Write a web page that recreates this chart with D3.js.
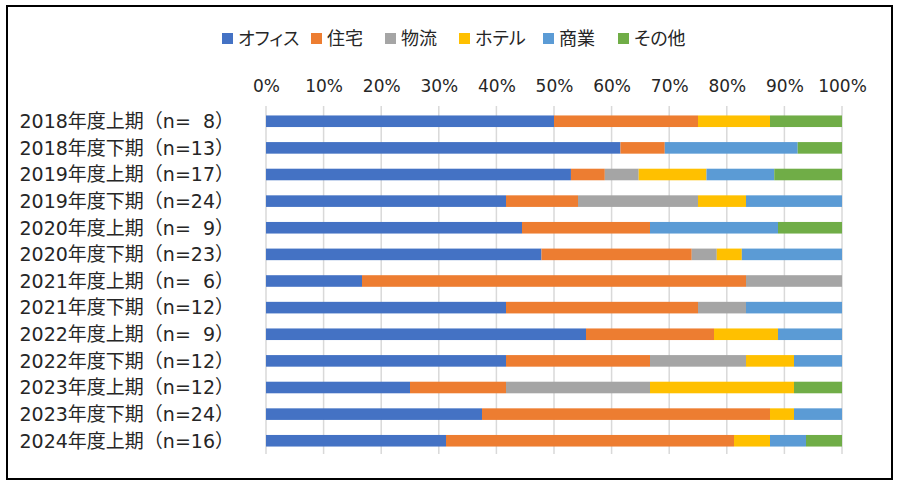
<!DOCTYPE html>
<html><head><meta charset="utf-8">
<script src="https://cdn.jsdelivr.net/npm/d3@7"></script>
<style>
html,body{margin:0;padding:0;background:#fff;}
svg{display:block;}
text{font-family:"DejaVu Sans","Noto Sans CJK JP",sans-serif;fill:#262626;}
</style></head>
<body>
<svg id="chart" width="900" height="488"></svg>
<script>
const periods = ["2018年度上期","2018年度下期","2019年度上期","2019年度下期","2020年度上期","2020年度下期","2021年度上期","2021年度下期","2022年度上期","2022年度下期","2023年度上期","2023年度下期","2024年度上期"];
const nValues = [8,13,17,24,9,23,6,12,9,12,12,24,16];
const seriesNames = ["オフィス","住宅","物流","ホテル","商業","その他"];
const office   = [4,8,9,10,4,11,1,5,5,5,3,9,5];
const housing  = [2,1,1,3,2,6,4,4,2,3,2,12,8];
const logistics= [0,0,1,5,0,1,1,1,0,2,3,0,0];
const hotel    = [1,0,2,2,0,1,0,0,1,1,3,1,1];
const retail   = [0,3,2,4,2,4,0,2,1,1,0,2,1];
const other    = [1,1,2,0,1,0,0,0,0,0,1,0,1];
const tickValues = [0,0.1,0.2,0.3,0.4,0.5,0.6,0.7,0.8,0.9,1];
const colors = ["#4472C4","#ED7D31","#A5A5A5","#FFC000","#5B9BD5","#70AD47"];

const seriesArrays = [office,housing,logistics,hotel,retail,other];
const labels = periods.map((p,i)=>`${p}（n=${String(nValues[i]).padStart(2,"\u2007")}）`);
const rows = periods.map((p,i)=>{
  const r = {label: labels[i]};
  seriesNames.forEach((s,j)=>{ r[s] = seriesArrays[j][i]; });
  return r;
});

const svg = d3.select("#chart");
svg.append("rect").attr("x",7).attr("y",6).attr("width",885).attr("height",473)
  .attr("fill","#fff").attr("stroke","#000").attr("stroke-width",2);

const x = d3.scaleLinear().domain([0,1]).range([266,842]);
const y = d3.scaleBand().domain(labels).range([108,454]).paddingInner(0.565).paddingOuter(0.28);

// gridlines
svg.append("g").selectAll("line").data(tickValues).join("line")
  .attr("x1",d=>x(d)).attr("x2",d=>x(d)).attr("y1",106).attr("y2",454)
  .attr("stroke","#d9d9d9").attr("stroke-width",1.5);

// tick labels
const axis = svg.append("g").attr("transform","translate(0,92)")
  .call(d3.axisTop(x).tickValues(tickValues).tickFormat(d3.format(".0%")).tickSize(0).tickPadding(0));
axis.select(".domain").remove();
axis.selectAll("text").attr("font-size",17).attr("font-family","DejaVu Sans, Noto Sans CJK JP, sans-serif").attr("fill","#262626");

// stacked bars
const stack = d3.stack().keys(seriesNames).offset(d3.stackOffsetExpand);
const stacked = stack(rows);
svg.append("g").selectAll("g").data(stacked).join("g")
  .attr("fill",(d,i)=>colors[i])
  .selectAll("rect").data(d=>d).join("rect")
  .attr("x",d=>x(d[0])).attr("width",d=>Math.max(0,x(d[1])-x(d[0])))
  .attr("y",d=>y(d.data.label)).attr("height",y.bandwidth());

// category labels
svg.append("g").selectAll("text").data(labels).join("text")
  .attr("x",234).attr("y",d=>y(d)+y.bandwidth()/2)
  .attr("dy","0.36em").attr("text-anchor","end").attr("font-size",19)
  .text(d=>d);

// legend
const legendX = [222,311,385,459,543,618];
const lg = svg.append("g").selectAll("g").data(seriesNames).join("g")
  .attr("transform",(d,i)=>`translate(${legendX[i]},33)`);
lg.append("rect").attr("width",11).attr("height",11).attr("fill",(d,i)=>colors[i]);
lg.append("text").attr("x",16).attr("y",5.5).attr("dy","0.36em").attr("font-size",18)
  .style("font-feature-settings","'palt'")
  .text(d=>d);
</script>
</body></html>
